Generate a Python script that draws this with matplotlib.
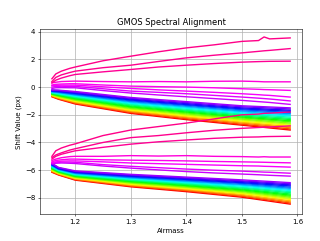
import numpy as np
import matplotlib
matplotlib.use("Agg")
import matplotlib.pyplot as plt

# ---- data ----
pink_airmass = [1.158, 1.165, 1.175, 1.19, 1.2, 1.25, 1.3, 1.35, 1.4, 1.45, 1.5, 1.53, 1.54, 1.55, 1.587]

upper_pink = [
    [0.60, 0.95, 1.15, 1.35, 1.45, 1.90, 2.23, 2.55, 2.83, 3.05, 3.30, 3.36, 3.62, 3.48, 3.55],
    [0.40, 0.70, 0.88, 1.05, 1.15, 1.40, 1.58, 1.85, 2.11, 2.30, 2.47, 2.58, 2.62, 2.65, 2.78],
    [0.30, 0.50, 0.65, 0.82, 0.91, 1.10, 1.27, 1.45, 1.58, 1.70, 1.80, 1.84, 1.85, 1.86, 1.87],
    [0.30, 0.35, 0.40, 0.42, 0.43, 0.40, 0.38, 0.40, 0.38, 0.42, 0.43, 0.40, 0.38, 0.38, 0.38],
    [0.15, 0.20, 0.22, 0.24, 0.24, 0.15, 0.07, 0.03, 0.00, -0.05, -0.12, -0.16, -0.18, -0.19, -0.24],
    [0.10, 0.12, 0.14, 0.14, 0.14, 0.02, -0.10, -0.20, -0.29, -0.38, -0.48, -0.55, -0.58, -0.60, -0.72],
    [0.00, 0.05, 0.06, 0.05, 0.05, -0.12, -0.29, -0.38, -0.48, -0.60, -0.72, -0.80, -0.83, -0.86, -1.00],
    [-0.10, -0.05, -0.04, -0.05, -0.05, -0.25, -0.43, -0.57, -0.70, -0.83, -0.96, -1.05, -1.08, -1.11, -1.25],
]

lower_pink = [
    [-5.00, -4.60, -4.40, -4.20, -4.10, -3.50, -3.10, -2.85, -2.60, -2.30, -2.00, -1.95, -1.90, -1.88, -1.80],
    [-5.10, -4.90, -4.75, -4.55, -4.45, -4.00, -3.65, -3.50, -3.30, -3.12, -2.98, -2.92, -2.90, -2.88, -2.80],
    [-5.20, -5.00, -4.85, -4.70, -4.60, -4.35, -4.12, -3.95, -3.82, -3.70, -3.62, -3.60, -3.58, -3.57, -3.55],
    [-5.30, -5.20, -5.10, -5.02, -5.00, -5.00, -4.95, -4.98, -4.95, -5.00, -5.02, -5.05, -5.03, -5.05, -5.05],
    [-5.40, -5.30, -5.25, -5.20, -5.20, -5.25, -5.28, -5.30, -5.33, -5.37, -5.40, -5.42, -5.43, -5.44, -5.47],
    [-5.45, -5.40, -5.35, -5.33, -5.33, -5.40, -5.48, -5.53, -5.58, -5.63, -5.68, -5.70, -5.72, -5.73, -5.78],
    [-5.50, -5.45, -5.42, -5.42, -5.43, -5.60, -5.72, -5.82, -5.92, -6.00, -6.07, -6.12, -6.14, -6.15, -6.22],
    [-5.55, -5.50, -5.48, -5.50, -5.52, -5.70, -5.85, -5.98, -6.10, -6.20, -6.28, -6.33, -6.35, -6.37, -6.43],
]

band_airmass = [1.158, 1.17, 1.2, 1.3, 1.4, 1.5, 1.587]

upper_band = [
    [-0.20, -0.22, -0.32, -0.75, -1.05, -1.35, -1.50],
    [-0.23, -0.25, -0.37, -0.81, -1.12, -1.42, -1.58],
    [-0.25, -0.29, -0.41, -0.87, -1.19, -1.50, -1.67],
    [-0.28, -0.32, -0.46, -0.93, -1.26, -1.57, -1.75],
    [-0.31, -0.36, -0.51, -0.99, -1.32, -1.64, -1.84],
    [-0.33, -0.39, -0.56, -1.05, -1.39, -1.72, -1.92],
    [-0.36, -0.43, -0.60, -1.11, -1.46, -1.79, -2.01],
    [-0.38, -0.46, -0.65, -1.17, -1.53, -1.87, -2.09],
    [-0.41, -0.50, -0.70, -1.23, -1.60, -1.94, -2.17],
    [-0.44, -0.53, -0.75, -1.29, -1.67, -2.01, -2.26],
    [-0.46, -0.57, -0.79, -1.36, -1.73, -2.09, -2.34],
    [-0.49, -0.60, -0.84, -1.42, -1.80, -2.16, -2.43],
    [-0.52, -0.64, -0.89, -1.48, -1.87, -2.23, -2.51],
    [-0.54, -0.67, -0.94, -1.54, -1.94, -2.31, -2.60],
    [-0.57, -0.71, -0.98, -1.60, -2.01, -2.38, -2.68],
    [-0.59, -0.74, -1.03, -1.66, -2.08, -2.46, -2.76],
    [-0.62, -0.78, -1.08, -1.72, -2.14, -2.53, -2.85],
    [-0.65, -0.81, -1.13, -1.78, -2.21, -2.60, -2.93],
    [-0.67, -0.85, -1.17, -1.84, -2.28, -2.68, -3.02],
    [-0.70, -0.88, -1.22, -1.90, -2.35, -2.75, -3.10],
]

lower_band = [
    [-5.50, -5.80, -6.05, -6.30, -6.50, -6.70, -6.90],
    [-5.53, -5.83, -6.09, -6.35, -6.56, -6.77, -6.98],
    [-5.57, -5.86, -6.12, -6.39, -6.61, -6.83, -7.06],
    [-5.60, -5.89, -6.16, -6.44, -6.67, -6.90, -7.14],
    [-5.64, -5.92, -6.19, -6.49, -6.72, -6.96, -7.23],
    [-5.67, -5.94, -6.23, -6.54, -6.78, -7.03, -7.31],
    [-5.71, -5.97, -6.26, -6.58, -6.83, -7.09, -7.39],
    [-5.74, -6.00, -6.30, -6.63, -6.89, -7.16, -7.47],
    [-5.77, -6.03, -6.33, -6.68, -6.94, -7.23, -7.55],
    [-5.81, -6.06, -6.37, -6.73, -7.00, -7.29, -7.63],
    [-5.84, -6.09, -6.40, -6.77, -7.05, -7.36, -7.72],
    [-5.88, -6.12, -6.44, -6.82, -7.11, -7.42, -7.80],
    [-5.91, -6.15, -6.47, -6.87, -7.16, -7.49, -7.88],
    [-5.94, -6.18, -6.51, -6.92, -7.22, -7.55, -7.96],
    [-5.98, -6.21, -6.54, -6.96, -7.27, -7.62, -8.04],
    [-6.01, -6.23, -6.58, -7.01, -7.33, -7.68, -8.12],
    [-6.05, -6.26, -6.61, -7.06, -7.38, -7.75, -8.21],
    [-6.08, -6.29, -6.65, -7.11, -7.44, -7.82, -8.29],
    [-6.12, -6.32, -6.68, -7.15, -7.49, -7.88, -8.37],
    [-6.15, -6.35, -6.72, -7.20, -7.55, -7.95, -8.45],
]

xticks = [1.2, 1.3, 1.4, 1.5, 1.6]
yticks = [-8, -6, -4, -2, 0, 2, 4]

# ---- drawing ----
fig = plt.figure(figsize=(6.4, 4.82), dpi=50)
ax = fig.add_subplot(111)
fig.subplots_adjust(left=0.125, right=0.944, top=0.88, bottom=0.11)

cmap = plt.get_cmap("hsv")
band_pos = np.linspace(0.78, 0.0, len(upper_band))
pink_pos = [0.925, 0.92, 0.915, 0.87, 0.855, 0.84, 0.825, 0.81]

for group in (upper_band, lower_band):
    for k in range(len(group) - 1, -1, -1):
        ax.plot(band_airmass, group[k], color=cmap(band_pos[k]), lw=2.0)

for group in (upper_pink, lower_pink):
    for k in range(len(group) - 1, -1, -1):
        ax.plot(pink_airmass, group[k], color=cmap(pink_pos[k]), lw=2.0)

ax.set_xticks(xticks)
ax.set_yticks(yticks)
ax.set_ylim(-9.2, 4.2)
ax.grid(True, color="#b0b0b0", lw=1.0)
ax.set_title("GMOS Spectral Alignment")
ax.set_xlabel("Airmass")
ax.set_ylabel("Shift Value (px)")

fig.savefig("out.png", dpi=50)
